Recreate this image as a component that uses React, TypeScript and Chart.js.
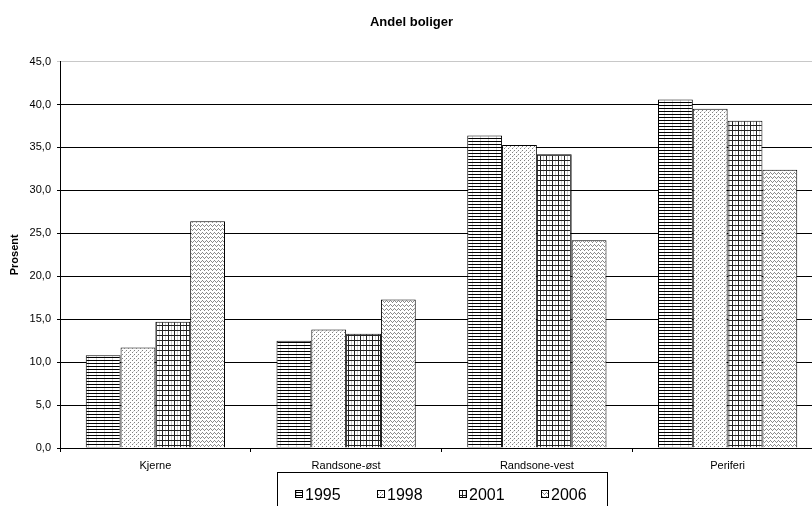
import React, { useEffect, useRef } from 'react';
import { Chart, registerables } from 'chart.js';

Chart.register(...registerables);

const categories = ['Kjerne', 'Randsone-øst', 'Randsone-vest', 'Periferi'];
const seriesLabels = ['1995', '1998', '2001', '2006'];
const values1995 = [10.8, 12.5, 36.4, 40.6];
const values1998 = [11.7, 13.8, 35.3, 39.5];
const values2001 = [14.7, 13.3, 34.2, 38.1];
const values2006 = [26.4, 17.3, 24.2, 32.4];
const yTickLabels = ['0,0', '5,0', '10,0', '15,0', '20,0', '25,0', '30,0', '35,0', '40,0', '45,0'];

const FONT = '"Liberation Sans", Arial, Helvetica, sans-serif';

type TileDraw = (c: CanvasRenderingContext2D, w: number, h: number) => void;

function makePattern(main: CanvasRenderingContext2D, w: number, h: number, draw: TileDraw): CanvasPattern {
  const cv = document.createElement('canvas');
  cv.width = w;
  cv.height = h;
  const c = cv.getContext('2d') as CanvasRenderingContext2D;
  c.fillStyle = '#ffffff';
  c.fillRect(0, 0, w, h);
  draw(c, w, h);
  return main.createPattern(cv, 'repeat') as CanvasPattern;
}

const px = (c: CanvasRenderingContext2D, x: number, y: number, col: string) => {
  c.fillStyle = col;
  c.fillRect(x, y, 1, 1);
};

const boxLegendPlugin = {
  id: 'boxLegend',
  afterDraw(chart: any) {
    const { ctx, chartArea } = chart;
    const cx = (chartArea.left + chartArea.right) / 2;
    const boxW = 330;
    const left = Math.round(cx - boxW / 2);
    const top = Math.round(chartArea.bottom + 24);
    ctx.save();
    ctx.strokeStyle = '#000';
    ctx.lineWidth = 1;
    ctx.strokeRect(left + 0.5, top + 0.5, boxW, 60);
    ctx.font = '16px ' + FONT;
    ctx.textBaseline = 'alphabetic';
    ctx.textAlign = 'left';
    chart.data.datasets.forEach((ds: any, i: number) => {
      const ix = left + 18 + i * 82;
      const iy = top + 18;
      ctx.fillStyle = ds.backgroundColor;
      ctx.fillRect(ix, iy, 8, 8);
      ctx.strokeStyle = '#000';
      ctx.strokeRect(ix + 0.5, iy + 0.5, 7, 7);
      ctx.fillStyle = '#000';
      ctx.fillText(ds.label, ix + 10, iy + 10);
    });
    ctx.restore();
  },
};

export default function App() {
  const ref = useRef<HTMLCanvasElement | null>(null);

  useEffect(() => {
    const canvas = ref.current;
    if (!canvas) return;
    const main = canvas.getContext('2d') as CanvasRenderingContext2D;

    const p1995 = makePattern(main, 8, 3, (c, w) => {
      c.fillStyle = '#000';
      c.fillRect(0, 0, w, 1);
      px(c, 0, 1, '#d0d0d0');
      px(c, 0, 2, '#d0d0d0');
    });
    const p1998 = makePattern(main, 4, 4, (c) => {
      px(c, 0, 0, '#808080');
      px(c, 2, 2, '#808080');
      px(c, 1, 3, '#d0d0d0');
    });
    const p2001 = makePattern(main, 6, 5, (c, w, h) => {
      c.fillStyle = '#222';
      c.fillRect(0, 0, w, 1);
      c.fillRect(0, 0, 1, h);
      c.fillStyle = '#c8c8c8';
      c.fillRect(3, 1, 1, h - 1);
    });
    const p2006 = makePattern(main, 4, 4, (c) => {
      const col = '#8a8a8a';
      px(c, 0, 2, col);
      px(c, 1, 1, col);
      px(c, 2, 0, col);
      px(c, 3, 1, col);
    });

    const patterns = [p1995, p1998, p2001, p2006];
    const seriesValues = [values1995, values1998, values2001, values2006];

    const chart = new Chart(canvas, {
      type: 'bar',
      data: {
        labels: categories,
        datasets: seriesLabels.map((label, i) => ({
          label,
          data: seriesValues[i],
          backgroundColor: patterns[i] as any,
          borderColor: '#000',
          borderWidth: 1,
          borderSkipped: 'start' as any,
          barPercentage: 1,
          categoryPercentage: 0.73,
        })),
      },
      options: {
        responsive: false,
        animation: false,
        layout: { padding: 0 },
        plugins: {
          legend: { display: false },
          tooltip: { enabled: false },
          title: {
            display: true,
            text: 'Andel boliger',
            color: '#000',
            font: { family: FONT, size: 13, weight: 'bold' },
            padding: { top: 15, bottom: 31 },
          },
        },
        scales: {
          x: {
            grid: {
              display: true,
              drawOnChartArea: false,
              drawTicks: true,
              tickLength: 4,
              color: '#000',
              offset: true,
            },
            border: { display: true, color: '#000', width: 1 },
            ticks: {
              color: '#000',
              font: { family: FONT, size: 11 },
              padding: 7,
              maxRotation: 0,
              autoSkip: false,
            },
            afterFit: (s: any) => {
              s.height = 58;
            },
          },
          y: {
            min: 0,
            max: 45,
            ticks: {
              stepSize: 5,
              color: '#000',
              font: { family: FONT, size: 11 },
              padding: 6,
              callback: (_v: any, idx: number) => yTickLabels[idx],
            },
            grid: {
              color: (ctx: any) => (ctx.tick && ctx.tick.value === 45 ? '#c8c8c8' : '#000'),
              tickLength: 3,
              drawTicks: true,
              lineWidth: 1,
            },
            border: { display: true, color: '#000', width: 1 },
            title: {
              display: true,
              text: 'Prosent',
              color: '#000',
              font: { family: FONT, size: 11, weight: 'bold' },
              padding: { top: 8, bottom: 0 },
            },
            afterFit: (s: any) => {
              s.width = 60;
            },
          },
        },
      },
      plugins: [boxLegendPlugin],
    });

    return () => {
      chart.destroy();
    };
  }, []);

  return (
    <div
      style={{
        position: 'fixed',
        left: 0,
        top: 0,
        width: 812,
        height: 506,
        overflow: 'hidden',
        background: '#fff',
      }}
    >
      <canvas ref={ref} width={823} height={506} style={{ display: 'block' }} />
    </div>
  );
}
